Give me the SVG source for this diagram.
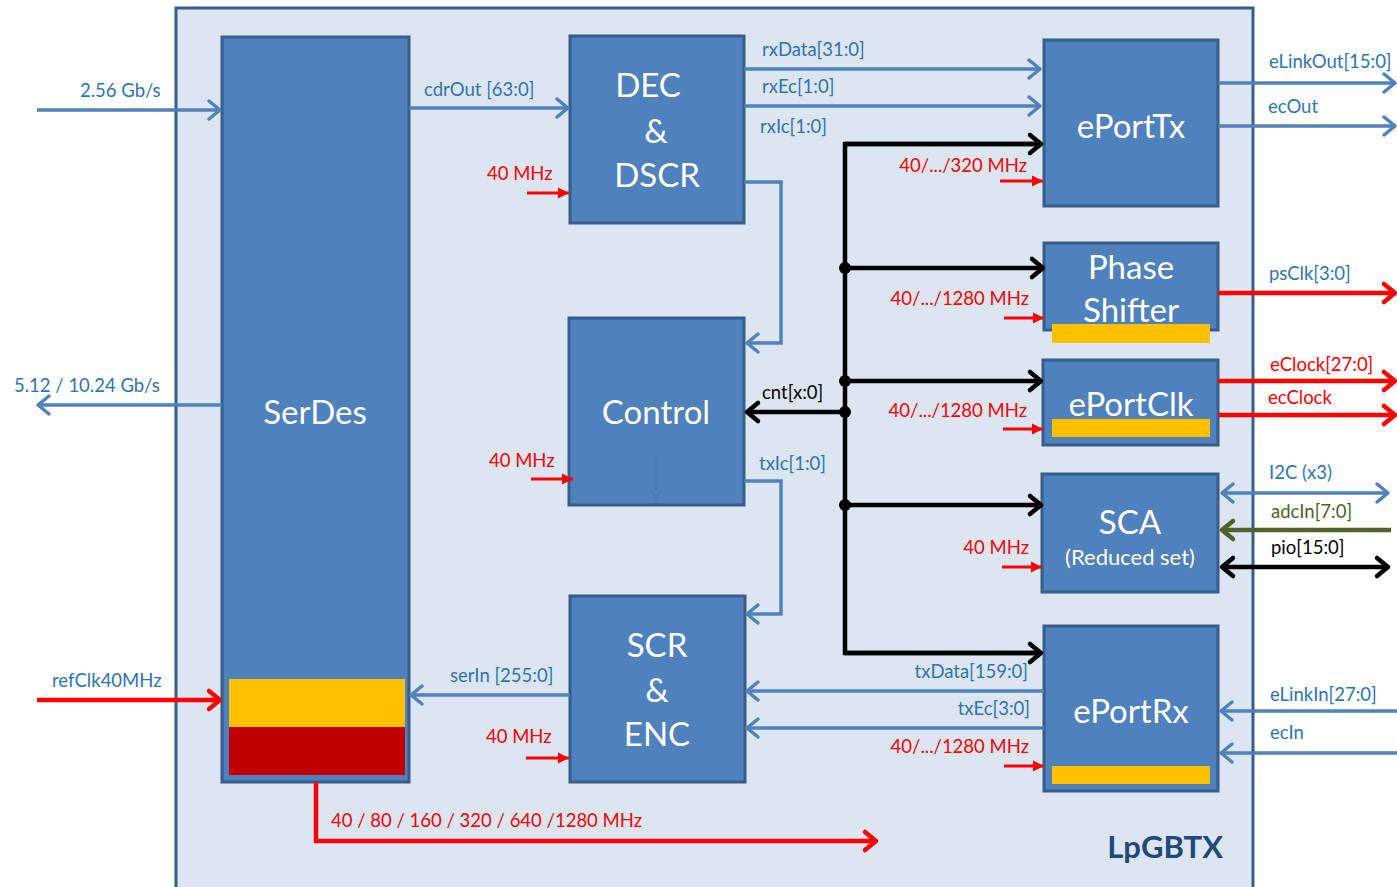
<svg xmlns="http://www.w3.org/2000/svg" width="1397" height="887" viewBox="0 0 1397 887">
<style>
text{font-family:Lato,"Liberation Sans",sans-serif}
.node{fill:#4f81bd;stroke:#385d8a;stroke-width:3}
.nt{fill:#fff;font-size:33px;text-anchor:middle}
.lb{fill:#2e74b5;font-size:18.5px}
.lr{fill:#ff0000;font-size:18.5px}
.lk{fill:#000;font-size:18.5px}
.lg{fill:#4f6228;font-size:18.5px}
.end{text-anchor:end}
.bl{fill:none;stroke:#4f81bd;stroke-width:3.5;marker-end:url(#ab)}
.bk{fill:none;stroke:#000;stroke-width:4.5;marker-end:url(#ak)}
.rs{fill:none;stroke:#ff0000;stroke-width:3;marker-end:url(#ars)}
.rb{fill:none;stroke:#ff0000;stroke-width:4.5;marker-end:url(#arb)}
.yel{fill:#ffc000}
</style>
<defs>
<marker id="ab" markerUnits="userSpaceOnUse" orient="auto-start-reverse" markerWidth="1" markerHeight="1" overflow="visible"><path d="M-11,-9 L0,0 L-11,9" fill="none" stroke="#4f81bd" stroke-width="3.5" stroke-linecap="round" stroke-linejoin="round"/></marker>
<marker id="ak" markerUnits="userSpaceOnUse" orient="auto-start-reverse" markerWidth="1" markerHeight="1" overflow="visible"><path d="M-11,-9 L0,0 L-11,9" fill="none" stroke="#000" stroke-width="4.5" stroke-linecap="round" stroke-linejoin="round"/></marker>
<marker id="ag" markerUnits="userSpaceOnUse" orient="auto" markerWidth="1" markerHeight="1" overflow="visible"><path d="M-11,-9 L0,0 L-11,9" fill="none" stroke="#4f6228" stroke-width="4.5" stroke-linecap="round" stroke-linejoin="round"/></marker>
<marker id="ars" markerUnits="userSpaceOnUse" orient="auto" markerWidth="1" markerHeight="1" overflow="visible"><path d="M-11,-5.5 L0,0 L-11,5.5 Z" fill="#ff0000"/></marker>
<marker id="arb" markerUnits="userSpaceOnUse" orient="auto" markerWidth="1" markerHeight="1" overflow="visible"><path d="M-11,-9 L0,0 L-11,9" fill="none" stroke="#ff0000" stroke-width="4.5" stroke-linecap="round" stroke-linejoin="round"/></marker>
</defs>
<rect width="1397" height="887" fill="#fff"/>
<g id="lpgbtx">
<rect x="176" y="8" width="1077" height="900" fill="#dce6f2" stroke="#385d8a" stroke-width="3"/>
<text x="1223" y="858" fill="#1f497d" font-size="31" font-weight="bold" text-anchor="end">LpGBTX</text>
</g>
<g id="serdes">
<rect class="node" x="222" y="37" width="187" height="745"/>
<rect class="yel" x="229" y="679" width="176" height="48"/>
<rect x="229" y="727" width="176" height="48" fill="#c00000"/>
<text class="nt" x="315" y="424">SerDes</text>
</g>
<g id="dec">
<rect class="node" x="570" y="36" width="174" height="187"/>
<text class="nt" x="648" y="97">DEC</text>
<text class="nt" x="656" y="143">&amp;</text>
<text class="nt" x="657" y="187">DSCR</text>
</g>
<g id="control">
<rect class="node" x="569" y="318" width="175" height="187"/>
<text class="nt" x="656" y="424">Control</text>
<line x1="656" y1="455" x2="656" y2="498" stroke="#4a79b4" stroke-width="1.5"/>
<path d="M650,490 L656,498 L662,490" fill="none" stroke="#4a79b4" stroke-width="1.5"/>
</g>
<g id="scr">
<rect class="node" x="570" y="596" width="175" height="186"/>
<text class="nt" x="657" y="657">SCR</text>
<text class="nt" x="657" y="702">&amp;</text>
<text class="nt" x="657" y="746">ENC</text>
</g>
<g id="eporttx">
<rect class="node" x="1044" y="40" width="174" height="166"/>
<text class="nt" x="1131" y="138">ePortTx</text>
</g>
<g id="phaseshifter">
<rect class="node" x="1044" y="243" width="174" height="87"/>
<text class="nt" x="1131" y="279">Phase</text>
<text class="nt" x="1131" y="322">Shifter</text>
<rect class="yel" x="1052" y="324" width="158" height="19"/>
</g>
<g id="eportclk">
<rect class="node" x="1043" y="360" width="175" height="85"/>
<text class="nt" x="1131" y="416">ePortClk</text>
<rect class="yel" x="1052" y="419" width="158" height="18"/>
</g>
<g id="sca">
<rect class="node" x="1042" y="474" width="176" height="118"/>
<text class="nt" x="1130" y="534">SCA</text>
<text x="1130" y="565" fill="#fff" font-size="22" text-anchor="middle">(Reduced set)</text>
</g>
<g id="eportrx">
<rect class="node" x="1044" y="626" width="174" height="165"/>
<text class="nt" x="1131" y="723">ePortRx</text>
<rect class="yel" x="1052" y="766" width="158" height="18"/>
</g>
<g id="connectors">
<path class="bl" d="M37,110 H220"/>
<path class="bl" d="M222,405 H38"/>
<path class="bl" d="M409,108 H568"/>
<path class="bl" d="M744,69 H1040"/>
<path class="bl" d="M744,106 H1040"/>
<path class="bl" d="M744,182 H781 V343 H747"/>
<path class="bl" d="M744,481 H781 V614 H747"/>
<path class="bl" d="M570,695 H411"/>
<path class="bl" d="M1044,691 H747"/>
<path class="bl" d="M1044,728 H747"/>
<path class="bl" d="M1218,83 H1395"/>
<path class="bl" d="M1218,126 H1395"/>
<path class="bl" d="M1222,493 H1388" style="marker-start:url(#ab)"/>
<path class="bl" d="M1397,711 H1221"/>
<path class="bl" d="M1397,753 H1221"/>
<path d="M1391,530 H1222" fill="none" stroke="#4f6228" stroke-width="4.5" marker-end="url(#ag)"/>
<path class="bk" d="M1222,567 H1388" style="marker-start:url(#ak)"/>
<path class="bk" d="M1041,144 H845 V653 H1041" style="marker-end:none"/>
<path class="bk" d="M845,144 H1041"/>
<path class="bk" d="M845,653 H1041"/>
<path class="bk" d="M845,268 H1043"/>
<path class="bk" d="M845,381 H1041"/>
<path class="bk" d="M845,505 H1041"/>
<path class="bk" d="M845,412 H747"/>
<circle cx="845" cy="268" r="6"/>
<circle cx="845" cy="381" r="6"/>
<circle cx="845" cy="412" r="6"/>
<circle cx="845" cy="505" r="6"/>
<path class="rb" d="M37,700 H220"/>
<path class="rb" d="M316,782 V841 H876"/>
<path class="rb" d="M1218,293 H1395"/>
<path class="rb" d="M1218,381 H1395"/>
<path class="rb" d="M1218,415 H1395"/>
<path class="rs" d="M527,193 H569"/>
<path class="rs" d="M531,479 H573"/>
<path class="rs" d="M526,758 H569"/>
<path class="rs" d="M1000,181 H1043"/>
<path class="rs" d="M1004,318 H1044"/>
<path class="rs" d="M1003,429 H1043"/>
<path class="rs" d="M1002,567 H1042"/>
<path class="rs" d="M1004,766 H1044"/>
<text class="lb" x="80" y="97">2.56 Gb/s</text>
<text class="lb" x="14" y="392">5.12 / 10.24 Gb/s</text>
<text class="lb" x="52" y="687">refClk40MHz</text>
<text class="lb" x="424" y="96">cdrOut [63:0]</text>
<text class="lb" x="762" y="56">rxData[31:0]</text>
<text class="lb" x="762" y="93">rxEc[1:0]</text>
<text class="lb" x="760" y="133">rxIc[1:0]</text>
<text class="lb" x="759" y="470">txIc[1:0]</text>
<text class="lb" x="450" y="682">serIn [255:0]</text>
<text class="lb end" x="1028" y="678">txData[159:0]</text>
<text class="lb end" x="1030" y="715">txEc[3:0]</text>
<text class="lk" x="762" y="399">cnt[x:0]</text>
<text class="lr" x="487" y="180">40 MHz</text>
<text class="lr" x="489" y="467">40 MHz</text>
<text class="lr" x="486" y="743">40 MHz</text>
<text class="lr end" x="1027" y="172">40/.../320 MHz</text>
<text class="lr end" x="1029" y="305">40/.../1280 MHz</text>
<text class="lr end" x="1027" y="417">40/.../1280 MHz</text>
<text class="lr end" x="1029" y="554">40 MHz</text>
<text class="lr end" x="1029" y="753">40/.../1280 MHz</text>
<text class="lr" x="331" y="827">40 / 80 / 160 / 320 / 640 /1280 MHz</text>
<text class="lb" x="1269" y="68">eLinkOut[15:0]</text>
<text class="lb" x="1268" y="113">ecOut</text>
<text class="lb" x="1269" y="280">psClk[3:0]</text>
<text class="lr" x="1270" y="371">eClock[27:0]</text>
<text class="lr" x="1268" y="404">ecClock</text>
<text class="lb" x="1269" y="479">I2C (x3)</text>
<text class="lg" x="1271" y="518">adcIn[7:0]</text>
<text class="lk" x="1271" y="554">pio[15:0]</text>
<text class="lb" x="1270" y="701">eLinkIn[27:0]</text>
<text class="lb" x="1270" y="739">ecIn</text>
</g>
</svg>
